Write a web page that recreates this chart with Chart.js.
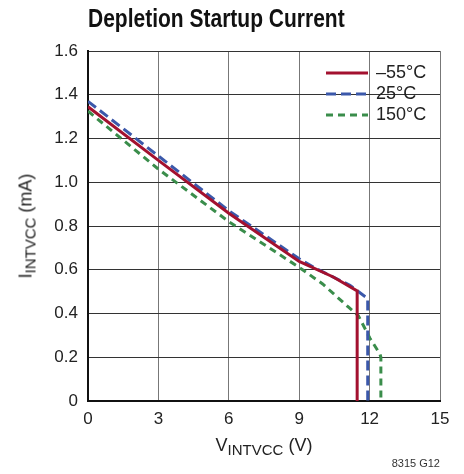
<!DOCTYPE html>
<html>
<head>
<meta charset="utf-8">
<script src="https://cdn.jsdelivr.net/npm/chart.js@4.4.1/dist/chart.umd.min.js"></script>
<style>
    html, body { margin: 0; padding: 0; background: #fff; }
    #wrap { position: relative; width: 464px; height: 474px; font-family: "Liberation Sans Narrow", "Liberation Sans", Arial, sans-serif; color: #222; }
    #chart { position: absolute; left: 0; top: 0; }
    .title { position: absolute; left: 88px; top: 4px; font-size: 25px; font-weight: bold; color: #111; white-space: nowrap; transform: scaleX(0.84); transform-origin: left top; }
    .xTitle { position: absolute; left: 0; width: 528px; top: 435px; text-align: center; font-size: 18px; white-space: nowrap; }
    .yTitle { position: absolute; left: 27px; top: 226px; font-size: 18px; white-space: nowrap; transform: translate(-50%, -50%) rotate(-90deg); }
    sub { font-size: 15px; vertical-align: -4px; }
    .code { position: absolute; right: 24px; top: 457px; font-size: 11px; color: #333; }
    .legend { position: absolute; left: 326px; top: 62px; font-size: 18px; }
    .legend div { height: 21px; display: flex; align-items: center; }
    .legend svg { width: 42px; height: 6px; margin-right: 8px; }
</style>
</head>
<body>
<div id="wrap">
    <canvas id="chart" width="464" height="474"></canvas>
    <div class="title">Depletion Startup Current</div>
    <div class="yTitle">I<sub>INTVCC</sub> (mA)</div>
    <div class="xTitle">V<sub>INTVCC</sub> (V)</div>
    <div class="code">8315 G12</div>
    <div class="legend" id="legend"></div>
</div>
<script>
// Series (V, mA)
const seriesNames = ['\u201355\u00B0C', '25\u00B0C', '150\u00B0C'];
const seriesColors = ['#a3112f', '#3b58aa', '#3a8d4b'];
const seriesDash = [[], [10, 5], [7, 5]];

const voltsM55 = [0, 3, 6, 9, 10.45, 11.47, 11.47];
const currM55 = [1.345, 1.10, 0.858, 0.638, 0.567, 0.503, 0];

const volts25 = [0, 3, 6, 9, 9.6, 11.16, 11.92, 11.92];
const curr25 = [1.37, 1.12, 0.87, 0.65, 0.612, 0.529, 0.468, 0];

const volts150 = [0, 3, 6, 9, 10, 11.09, 11.52, 12.02, 12.44, 12.48, 12.48];
const curr150 = [1.325, 1.06, 0.82, 0.611, 0.535, 0.43, 0.39, 0.286, 0.215, 0.2, 0];

const xTicks = [0, 3, 6, 9, 12, 15];
const yTicks = [0, 0.2, 0.4, 0.6, 0.8, 1.0, 1.2, 1.4, 1.6];

const xs = [voltsM55, volts25, volts150];
const ys = [currM55, curr25, curr150];

const datasets = seriesNames.map((name, i) => ({
    label: name,
    data: xs[i].map((v, j) => ({ x: v, y: ys[i][j] })),
    borderColor: seriesColors[i],
    borderDash: seriesDash[i],
    borderWidth: 3,
    pointRadius: 0,
    fill: false,
    tension: 0
}));

// HTML legend
const legend = document.getElementById('legend');
seriesNames.forEach((name, i) => {
    const row = document.createElement('div');
    row.innerHTML = `<svg viewBox="0 0 42 6"><line x1="0" y1="3" x2="42" y2="3" stroke="${seriesColors[i]}" stroke-width="3" stroke-dasharray="${seriesDash[i].join(' ') || 'none'}"/></svg>${name}`;
    legend.appendChild(row);
});

const tickFont = { family: '"Liberation Sans Narrow", "Liberation Sans", Arial, sans-serif', size: 17 };

new Chart(document.getElementById('chart'), {
    type: 'line',
    data: { datasets: datasets },
    options: {
        responsive: false,
        animation: false,
        layout: { padding: { left: 0, right: 24, top: 51, bottom: 0 } },
        plugins: { legend: { display: false }, tooltip: { enabled: false } },
        scales: {
            x: {
                type: 'linear',
                min: 0,
                max: 15,
                afterBuildTicks: (scale) => { scale.ticks = xTicks.map(v => ({ value: v })); },
                afterFit: (scale) => { scale.height = 73; },
                ticks: { color: '#222', font: tickFont, padding: 8, maxRotation: 0 },
                grid: { color: '#777', lineWidth: 1, drawTicks: false },
                border: { color: '#111', width: 2 }
            },
            y: {
                type: 'linear',
                min: 0,
                max: 1.6,
                afterBuildTicks: (scale) => { scale.ticks = yTicks.map(v => ({ value: v })); },
                afterFit: (scale) => { scale.width = 88; },
                ticks: {
                    color: '#222',
                    font: tickFont,
                    padding: 10,
                    callback: (v) => v === 0 ? '0' : v.toFixed(1)
                },
                grid: { color: '#333', lineWidth: 1, drawTicks: false },
                border: { color: '#111', width: 2 }
            }
        }
    }
});
</script>
</body>
</html>
